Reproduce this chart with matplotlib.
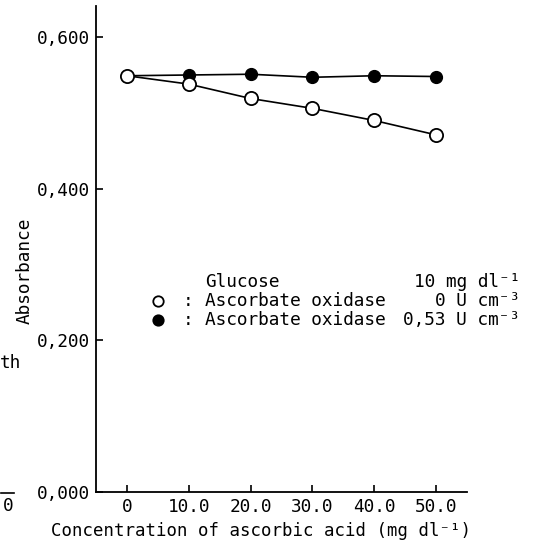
import matplotlib
matplotlib.use("Agg")
import matplotlib.pyplot as plt
from matplotlib.lines import Line2D

# ---- data ----
conc = [0, 10, 20, 30, 40, 50]
abs_no_oxidase = [0.549, 0.538, 0.519, 0.506, 0.490, 0.471]
abs_oxidase = [0.549, 0.550, 0.551, 0.547, 0.549, 0.548]
xtick_vals = [0, 10, 20, 30, 40, 50]
xtick_labels = ["0", "10.0", "20.0", "30.0", "40.0", "50.0"]
ytick_vals = [0.0, 0.2, 0.4, 0.6]
ytick_labels = ["0,000", "0,200", "0,400", "0,600"]
legend_rows = [
    (None, "Glucose", "10 mg dl⁻¹"),
    ("open", "Ascorbate oxidase", "0 U cm⁻³"),
    ("filled", "Ascorbate oxidase", "0,53 U cm⁻³"),
]

W, H = 535, 549
FONT = ["DejaVu Sans Mono", "DejaVu Sans"]
FS = 12.8
plt.rcParams["font.family"] = FONT

fig = plt.figure(figsize=(W / 100, H / 100), dpi=100)
ax = fig.add_axes([96 / W, 1 - 492 / H, (467 - 96) / W, (492 - 6) / H])

def px(x, y):
    return x / W, 1 - y / H

ax.plot(conc, abs_oxidase, color="black", lw=1.2, marker="o", ms=8.5,
        mfc="black", mec="black", mew=1.0, zorder=3)
ax.plot(conc, abs_no_oxidase, color="black", lw=1.2, marker="o", ms=9.5,
        mfc="white", mec="black", mew=1.3, zorder=4)

ax.set_xlim(-5, 55)
ax.set_ylim(0, 0.641)
ax.set_xticks(xtick_vals)
ax.set_xticklabels(xtick_labels)
ax.set_yticks(ytick_vals)
ax.set_yticklabels(ytick_labels)
for s in ("top", "right"):
    ax.spines[s].set_visible(False)
for s in ("left", "bottom"):
    ax.spines[s].set_linewidth(1.3)
ax.tick_params(axis="both", direction="in", length=5, width=1.2,
               labelsize=FS, pad=4)
ax.tick_params(axis="x", pad=4)

fig.text(*px(261, 531), "Concentration of ascorbic acid (mg dl⁻¹)",
         ha="center", va="center", fontsize=12.5)
fig.text(*px(25, 271), "Absorbance", rotation=90,
         ha="center", va="center", fontsize=FS)

# legend block
row_y = [282, 301, 320]
for (mk, left, right), y in zip(legend_rows, row_y):
    fx, fy = px(205, y)
    fig.text(fx, fy, left, ha="left", va="center", fontsize=FS)
    fx2, _ = px(520, y)
    fig.text(fx2, fy, right, ha="right", va="center", fontsize=FS)
    if mk is not None:
        mx, my = px(158, y)
        fig.add_artist(Line2D([mx], [my], marker="o", ms=7.5,
                              mfc="white" if mk == "open" else "black",
                              mec="black", mew=1.3, ls="none"))
        cx, _ = px(188, y)
        fig.text(cx, fy, ":", ha="center", va="center", fontsize=FS)

# fragments of neighbouring figure at left edge
fig.text(*px(0, 363), "th", ha="left", va="center", fontsize=FS)
fig.text(*px(8, 506), "0", ha="center", va="center", fontsize=FS)
x0, y0 = px(1, 493)
x1, _ = px(14, 493)
fig.add_artist(Line2D([x0, x1], [y0, y0], color="black", lw=1.2))

fig.savefig("out.png", dpi=100, facecolor="white")
